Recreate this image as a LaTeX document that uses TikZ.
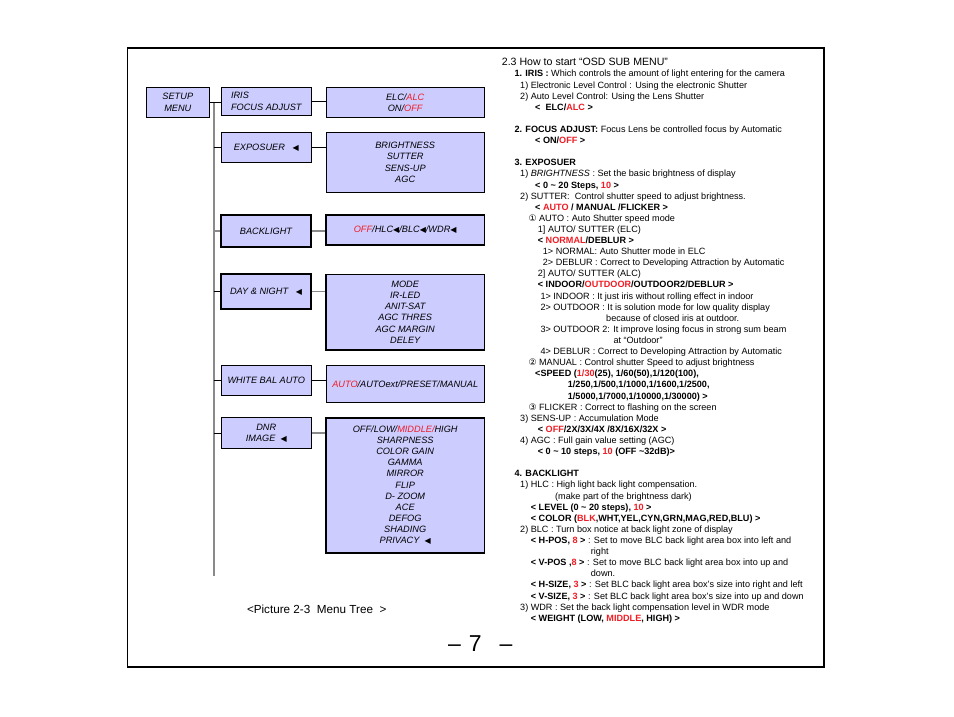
\documentclass[tikz,border=0pt]{standalone}
\usepackage{fontspec}
\setmainfont{Liberation Sans}
\newfontfamily\symfont{DejaVu Sans}
\usepackage{xcolor}
\definecolor{boxblue}{RGB}{204,204,255}
\definecolor{osdred}{RGB}{240,28,36}
\definecolor{trunkgray}{RGB}{138,138,138}
\newcommand{\rd}[1]{\textcolor{osdred}{#1}}
\newcommand{\tri}{{\symfont\fontsize{8}{8}\selectfont ◀}}
\newcommand{\circnum}[1]{{\symfont\fontsize{9}{11}\selectfont #1}}

\begin{document}
\begin{tikzpicture}[x=1pt,y=-1pt,
  menubox/.style={draw=black,line width=0.9pt,fill=boxblue,inner sep=0pt,align=center,
    font=\fontsize{9.2}{11.1}\selectfont\itshape},
  thickbox/.style={menubox,line width=1.7pt},
  link/.style={black,line width=0.8pt},
  glink/.style={trunkgray,line width=1.4pt},
  osdtext/.style={inner sep=0pt,align=left,font=\fontsize{9.1}{11.11}\selectfont}]

\useasboundingbox (0,0) rectangle (954,716);

% page frame
\draw[line width=1.1pt] (127.5,48) rectangle (824,667);
\draw[line width=2.2pt] (824,47.5) -- (824,667.5);

% menu tree
\node[menubox,minimum width=62.3pt,minimum height=29.6pt] (setup) at (177.8,102.3) {SETUP\\MENU};
\node[menubox,align=left,minimum width=90pt,minimum height=27.3pt] (iris) at (266.3,101.3) {IRIS\\FOCUS ADJUST};
\node[menubox,minimum width=158.3pt,minimum height=29.6pt] (elc) at (405.2,102.5) {ELC/\rd{ALC}\\ON/\rd{OFF}};

\node[menubox,minimum width=90pt,minimum height=30pt] (expo) at (266.3,147.3) {EXPOSUER\ \ \ \tri};
\node[menubox,minimum width=158.3pt,minimum height=60pt] (bright) at (405.2,162.3) {BRIGHTNESS\\SUTTER\\SENS-UP\\AGC};

\node[thickbox,minimum width=89.4pt,minimum height=32.6pt] (back) at (266,231) {BACKLIGHT};
\node[thickbox,minimum width=158.3pt,minimum height=30.3pt] (offhlc) at (405.2,229.9) {\rd{OFF}/HLC\tri/BLC\tri/WDR\tri};

\node[thickbox,minimum width=89.4pt,minimum height=34.4pt] (day) at (266,291.5) {DAY \& NIGHT\ \ \ \tri};
\node[menubox,line width=1.3pt,minimum width=158.3pt,minimum height=75.7pt] (mode) at (405.2,312.2) {MODE\\IR-LED\\ANIT-SAT\\AGC THRES\\AGC MARGIN\\DELEY};

\node[menubox,minimum width=90pt,minimum height=30pt] (white) at (266.3,380.3) {WHITE BAL AUTO};
\node[menubox,minimum width=158.3pt,minimum height=37pt] (auto) at (405.2,383.8) {\rd{AUTO}/AUTOext/PRESET/MANUAL};

\node[menubox,line width=1.3pt,minimum width=90pt,minimum height=30.6pt] (dnr) at (266.3,433) {DNR\\IMAGE\ \ \tri};
\node[thickbox,minimum width=158.3pt,minimum height=135pt] (offlow) at (405.2,485.2) {OFF/LOW/\rd{MIDDLE/}HIGH\\SHARPNESS\\COLOR GAIN\\GAMMA\\MIRROR\\FLIP\\D- ZOOM\\ACE\\DEFOG\\SHADING\\PRIVACY\ \ \tri};

\coordinate (trunktop) at (214,102);
\coordinate (trunkbot) at (214,576);
\draw[glink] (trunktop) -- (trunkbot);

\draw[link] (setup.east) -- (setup.east -| iris.west);
\draw[link] (iris.east) -- (iris.east -| elc.west);
\draw[link] (expo.west -| trunktop) -- (expo.west);
\draw[link] (expo.east) -- (expo.east -| bright.west);
\draw[glink] (back.west -| trunktop) -- (back.west);
\draw[glink] (back.east) -- (back.east -| offhlc.west);
\draw[link] (day.west -| trunktop) -- (day.west);
\draw[glink] (day.east) -- (day.east -| mode.west);
\draw[link] (white.west -| trunktop) -- (white.west);
\draw[link] (white.east) -- (white.east -| auto.west);
\draw[link] (dnr.west -| trunktop) -- (dnr.west);
\draw[glink] (dnr.east) -- (dnr.east -| offlow.west);

\node[font=\fontsize{11.7}{14}\selectfont] (caption) at (316.7,609.3) {<Picture 2-3\ \ Menu Tree\ \ >};

% sub menu text
\node[font=\fontsize{10.6}{12}\selectfont,inner sep=0pt,anchor=base west] (head) at (501.7,65.5) {2.3 How to start “OSD SUB MENU”};

\node[osdtext,anchor=north west] (osd) at (514.3,70.1) {%
\textbf{1. IRIS :} Which controls the amount of light entering for the camera\\
\hspace*{5.7pt}1) Electronic Level Control : Using the electronic Shutter\\
\hspace*{5.7pt}2) Auto Level Control: Using the Lens Shutter\\
\hspace*{20.7pt}\textbf{<\ \ ELC/\rd{ALC} >}\\[11.11pt]
\textbf{2. FOCUS ADJUST:} Focus Lens be controlled focus by Automatic\\
\hspace*{20.7pt}\textbf{< ON/\rd{OFF} >}\\[11.11pt]
\textbf{3. EXPOSUER}\\
\hspace*{5.7pt}1) \textit{BRIGHTNESS} : Set the basic brightness of display\\
\hspace*{20.7pt}\textbf{< 0 \textasciitilde{} 20 Steps, \rd{10} >}\\
\hspace*{5.7pt}2) SUTTER:\ \ Control shutter speed to adjust brightness.\\
\hspace*{20.7pt}\textbf{< \rd{AUTO} / MANUAL /FLICKER >}\\
\hspace*{14pt}\circnum{①} AUTO : Auto Shutter speed mode\\
\hspace*{23.4pt}1] AUTO/ SUTTER (ELC)\\
\hspace*{23.4pt}\textbf{< \rd{NORMAL}/DEBLUR >}\\
\hspace*{28.4pt}1> NORMAL: Auto Shutter mode in ELC\\
\hspace*{28.4pt}2> DEBLUR : Correct to Developing Attraction by Automatic\\
\hspace*{23.4pt}2] AUTO/ SUTTER (ALC)\\
\hspace*{23.4pt}\textbf{< INDOOR/\rd{OUTDOOR}/OUTDOOR2/DEBLUR >}\\
\hspace*{26pt}1> INDOOR : It just iris without rolling effect in indoor\\
\hspace*{26pt}2> OUTDOOR : It is solution mode for low quality display\\
\hspace*{91.7pt}because of closed iris at outdoor.\\
\hspace*{26pt}3> OUTDOOR 2: It improve losing focus in strong sum beam\\
\hspace*{99pt}at “Outdoor”\\
\hspace*{26pt}4> DEBLUR : Correct to Developing Attraction by Automatic\\
\hspace*{14pt}\circnum{②} MANUAL : Control shutter Speed to adjust brightness\\
\hspace*{20.7pt}\textbf{<SPEED (\rd{1/30}(25), 1/60(50),1/120(100),}\\
\hspace*{53.4pt}\textbf{1/250,1/500,1/1000,1/1600,1/2500,}\\
\hspace*{53.4pt}\textbf{1/5000,1/7000,1/10000,1/30000) >}\\
\hspace*{14pt}\circnum{③} FLICKER : Correct to flashing on the screen\\
\hspace*{5.7pt}3) SENS-UP : Accumulation Mode\\
\hspace*{23.4pt}\textbf{< \rd{OFF}/2X/3X/4X /8X/16X/32X >}\\
\hspace*{5.7pt}4) AGC : Full gain value setting (AGC)\\
\hspace*{23.4pt}\textbf{< 0 \textasciitilde{} 10 steps, \rd{10} (OFF \textasciitilde 32dB)>}\\[11.11pt]
\textbf{4. BACKLIGHT}\\
\hspace*{5.7pt}1) HLC : High light back light compensation.\\
\hspace*{40.7pt}(make part of the brightness dark)\\
\hspace*{16.4pt}\textbf{< LEVEL (0 \textasciitilde{} 20 steps), \rd{10} >}\\
\hspace*{16.4pt}\textbf{< COLOR (\rd{BLK},WHT,YEL,CYN,GRN,MAG,RED,BLU) >}\\
\hspace*{5.7pt}2) BLC : Turn box notice at back light zone of display\\
\hspace*{16.4pt}\textbf{< H-POS, \rd{8} >} : Set to move BLC back light area box into left and\\
\hspace*{76.4pt}right\\
\hspace*{16.4pt}\textbf{< V-POS ,\rd{8} >} : Set to move BLC back light area box into up and\\
\hspace*{76.4pt}down.\\
\hspace*{16.4pt}\textbf{< H-SIZE, \rd{3} >} : Set BLC back light area box’s size into right and left\\
\hspace*{16.4pt}\textbf{< V-SIZE, \rd{3} >} : Set BLC back light area box’s size into up and down\\
\hspace*{5.7pt}3) WDR : Set the back light compensation level in WDR mode\\
\hspace*{16.4pt}\textbf{< WEIGHT (LOW, \rd{MIDDLE}, HIGH) >}};

\node[font=\fontsize{23}{26}\selectfont] (pagenum) at (480.2,643.3) {–\hspace{8pt}7\hspace{18pt}–};

\end{tikzpicture}
\end{document}
